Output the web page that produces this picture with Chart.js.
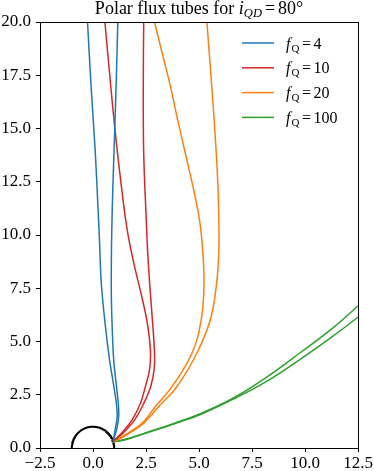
<!DOCTYPE html>
<html><head><meta charset="utf-8">
<script src="https://cdn.jsdelivr.net/npm/chart.js@4"></script>
<style>html,body{margin:0;padding:0;background:#fff}#wrap{width:374px;height:471px;position:relative}</style>
</head><body><div id="wrap"><canvas id="c"></canvas></div>
<script>
// ---- data ----
const xTicks = [-2.5, 0, 2.5, 5, 7.5, 10, 12.5];
const yTicks = [0, 2.5, 5, 7.5, 10, 12.5, 15, 17.5, 20];
const fqLabels = ['4', '10', '20', '100'];
const titleMain = 'Polar flux tubes for ';
const titleVar = 'i';
const titleSub = 'QD';
const titleEnd = '80°';

// flux tube boundaries [x, y], from the footpoint upward
const fq4_a = [[0.95,0.33],[1.05,0.9],[1.14,1.48],[1.10,2.11],[0.93,3.21],[0.77,4.2],[0.62,5.4],[0.48,6.7],[0.38,7.9],[0.31,9.6],[0.22,11.6],[0.10,14.0],[-0.08,16.8],[-0.26,20],[-0.29,20.6]];
const fq4_b = [[0.95,0.33],[1.12,0.9],[1.21,1.48],[1.19,2.11],[1.07,3.21],[0.97,4.2],[0.91,5.5],[0.87,6.8],[0.86,7.9],[0.88,10.0],[0.94,12.4],[1.02,14.8],[1.10,17.4],[1.17,20],[1.19,20.6]];
const fq10_a = [[0.95,0.32],[1.35,0.70],[1.85,1.33],[2.24,2.11],[2.47,2.89],[2.66,3.65],[2.71,4.5],[2.57,5.8],[2.30,7.1],[1.92,8.69],[1.61,10.25],[1.30,12.6],[1.02,15.1],[0.78,17.6],[0.56,20],[0.51,20.6]];
const fq10_b = [[0.95,0.32],[1.42,0.70],[1.97,1.33],[2.40,2.11],[2.72,2.89],[2.88,3.68],[2.90,4.46],[2.80,6.0],[2.68,7.6],[2.58,9.15],[2.51,10.72],[2.39,13.85],[2.37,17.0],[2.39,20],[2.40,20.6]];
const fq20_a = [[0.95,0.30],[1.38,0.54],[2.32,1.17],[2.94,1.95],[3.73,2.89],[4.67,4.46],[5.10,6.02],[5.23,7.59],[5.18,9.15],[5.02,10.72],[4.71,12.28],[4.35,13.85],[3.99,15.41],[3.65,16.98],[3.26,18.54],[2.90,20],[2.76,20.6]];
const fq20_b = [[0.95,0.30],[1.45,0.54],[2.39,1.17],[3.10,1.95],[3.96,2.89],[4.90,4.46],[5.53,6.02],[5.81,7.59],[5.93,9.15],[5.93,10.72],[5.89,12.28],[5.81,13.85],[5.71,15.41],[5.60,16.98],[5.48,18.54],[5.37,20],[5.33,20.6]];
const fq100_a = [[0.95,0.29],[1.53,0.41],[2.47,0.71],[3.88,1.18],[5.06,1.61],[6.62,2.35],[8.19,3.33],[9.75,4.46],[11.3,5.63],[12.5,6.68],[12.8,6.96]];
const fq100_b = [[0.95,0.29],[1.53,0.39],[2.47,0.69],[3.88,1.15],[5.06,1.57],[6.62,2.30],[8.19,3.13],[9.75,4.15],[11.3,5.24],[12.5,6.15],[12.8,6.39]];

// ---- styles ----
const colors = ['#1f77b4', '#d62728', '#ff7f0e', '#2ca02c'];
const SERIF = '"Liberation Serif", "Times New Roman", serif';

const tubes = [[fq4_a, fq4_b], [fq10_a, fq10_b], [fq20_a, fq20_b], [fq100_a, fq100_b]];
const pts = arr => arr.map(p => ({x: p[0], y: p[1]}));

// planet outline (unit semicircle)
const planet = [];
for (let i = 0; i <= 90; i++) { const t = Math.PI * i / 90; planet.push({x: Math.cos(t), y: Math.sin(t)}); }

const datasets = [];
tubes.forEach((pair, k) => pair.forEach(arr => datasets.push({
  data: pts(arr), borderColor: colors[k], borderWidth: 1.5, showLine: true,
  pointRadius: 0, tension: 0.4, fill: false
})));
datasets.push({data: planet, borderColor: '#000', borderWidth: 2, showLine: true, pointRadius: 0, tension: 0, fill: false});

const fmt = v => (v < 0 ? '\u2212' : '') + Math.abs(v).toFixed(1);

function drawRuns(ctx, segs, x, y) {
  segs.forEach(s => { ctx.font = s.f; ctx.fillText(s.t, x, y + (s.dy || 0)); x += ctx.measureText(s.t).width + (s.gap || 0); });
}
function runsWidth(ctx, segs) {
  let w = 0; segs.forEach(s => { ctx.font = s.f; w += ctx.measureText(s.t).width + (s.gap || 0); }); return w;
}

const decor = {
  id: 'decor',
  afterDraw(chart) {
    const ctx = chart.ctx, a = chart.chartArea;
    ctx.save();
    ctx.strokeStyle = '#000'; ctx.lineWidth = 1;
    ctx.strokeRect(Math.round(a.left) + 0.5, Math.round(a.top) + 0.5, Math.round(a.right - a.left), Math.round(a.bottom - a.top));
    // title
    const tsegs = [
      {t: titleMain, f: '18px ' + SERIF},
      {t: titleVar, f: 'italic 18px ' + SERIF},
      {t: titleSub, f: 'italic 12.5px ' + SERIF, dy: 3, gap: 3},
      {t: '=', f: '18px ' + SERIF, gap: 3},
      {t: titleEnd, f: '18px ' + SERIF}
    ];
    ctx.fillStyle = '#000'; ctx.textBaseline = 'alphabetic'; ctx.textAlign = 'left';
    const tw = runsWidth(ctx, tsegs);
    drawRuns(ctx, tsegs, (a.left + a.right) / 2 - tw / 2, 14);
    // legend
    fqLabels.forEach((lab, i) => {
      const y = 43 + i * 24.8;
      ctx.strokeStyle = colors[i]; ctx.lineWidth = 1.5;
      ctx.beginPath(); ctx.moveTo(242, y); ctx.lineTo(274, y); ctx.stroke();
      ctx.fillStyle = '#000';
      drawRuns(ctx, [
        {t: 'f', f: 'italic 16px ' + SERIF, gap: 1},
        {t: 'Q', f: '11px ' + SERIF, dy: 3, gap: 2.5},
        {t: '=', f: '16px ' + SERIF, gap: 2.5},
        {t: lab, f: '16px ' + SERIF}
      ], 286, y + 5.5);
    });
    ctx.restore();
  }
};

new Chart(document.getElementById('c'), {
  type: 'scatter',
  data: {datasets},
  options: {
    responsive: true, maintainAspectRatio: false, animation: false,
    layout: {padding: {top: 22, right: 14, left: 0, bottom: 0}},
    plugins: {legend: {display: false}, tooltip: {enabled: false}, title: {display: false}},
    scales: {
      x: {
        type: 'linear', min: -2.5, max: 12.5,
        afterBuildTicks: s => { s.ticks = xTicks.map(v => ({value: v})); },
        afterFit: s => { s.height = 23; },
        border: {display: false},
        grid: {drawOnChartArea: false, drawTicks: true, tickLength: 4, color: '#000', lineWidth: 1},
        ticks: {padding: 1, color: '#000', font: {family: SERIF, size: 17}, maxRotation: 0, autoSkip: false, callback: v => fmt(v)}
      },
      y: {
        type: 'linear', min: 0, max: 20,
        afterBuildTicks: s => { s.ticks = yTicks.map(v => ({value: v})); },
        afterFit: s => { s.width = 40; },
        border: {display: false},
        grid: {drawOnChartArea: false, drawTicks: true, tickLength: 4, color: '#000', lineWidth: 1},
        ticks: {padding: 5, color: '#000', font: {family: SERIF, size: 17}, autoSkip: false, callback: v => fmt(v)}
      }
    }
  },
  plugins: [decor]
});
</script></body></html>
